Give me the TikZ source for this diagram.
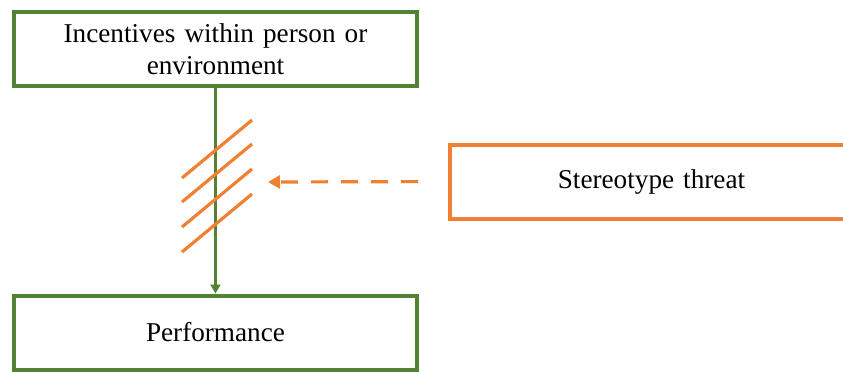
\documentclass[tikz,border=0pt]{standalone}
\usepackage{fontspec}
\setmainfont{Liberation Serif}
\usetikzlibrary{arrows.meta}
\definecolor{grn}{RGB}{84,130,53}
\definecolor{org}{RGB}{240,128,52}
\begin{document}
\begin{tikzpicture}[x=0.5pt,y=-0.5pt,font=\fontsize{13.6}{16}\selectfont]
    \tikzset{
      box/.style={draw,line width=2pt,minimum width=201.5pt,minimum height=37pt,
                  inner sep=2pt,align=center,text width=190pt},
      gb/.style={box,draw=grn},
      ob/.style={box,draw=org},
      ar/.style={-{Triangle[length=4.5pt,width=5pt]},line width=1.3pt,grn},
      da/.style={-{Triangle[length=6pt,width=6.5pt]},line width=1.6pt,org,
                 dash pattern=on 8.5pt off 6.5pt},
      hatch/.style={org,line width=1.6pt}}
    \useasboundingbox (0,0) rectangle (843,372);
    \node[gb] (inc) at (215.5,49) {Incentives within person or\\environment};
    \node[gb] (perf) at (215.5,332.5) {Performance};
    \node[ob] (st) at (651.5,181.5) {Stereotype threat};
    \draw[ar] (inc) -- (perf);
    \foreach \y in {178,202,227,252} \draw[hatch] (182,\y) -- ++(70,-58);
    \coordinate (hit) at (268,182);
    \draw[da,shorten <=15pt] (st.west) -- (hit);
  \end{tikzpicture}
\end{document}
